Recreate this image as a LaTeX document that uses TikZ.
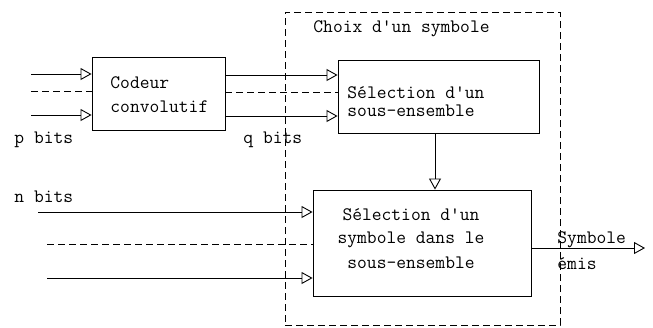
\documentclass[tikz,border=0pt]{standalone}
\usepackage{fontspec}
\usetikzlibrary{arrows.meta}
\begin{document}
\begin{tikzpicture}[x=1pt,y=-1pt,
  line width=0.9pt,
  txt/.style={font=\ttfamily\fontsize{19}{22}\selectfont, inner sep=0pt},
  blk/.style={draw, minimum width=#1, inner sep=0pt},
  arr/.style={-{Triangle[open,length=11pt,width=12pt]}},
  dsh/.style={dash pattern=on 7pt off 4pt}]
\useasboundingbox (0,0) rectangle (653,327);

% outer dashed frame
\node[draw, dsh, minimum width=275pt, minimum height=313pt, inner sep=0pt] (frame) at (422.5,168.5) {};
\node[txt, anchor=west] (ttl) at (313,29) {Choix d\textquotesingle un symbole};

% blocks
\node[blk=133pt, minimum height=73pt] (cod) at (158.5,93.5) {};
\node[blk=201pt, minimum height=73pt] (sel) at (438.5,96.5) {};
\node[blk=218pt, minimum height=106pt] (sym) at (422,243) {};

\node[txt, anchor=west] (c1) at (110,83) {Codeur};
\node[txt, anchor=west] (c2) at (110,107) {convolutif};
\node[txt, anchor=west] (s1) at (347,93) {Sélection d\textquotesingle un};
\node[txt, anchor=west] (s2) at (347,111) {sous-ensemble};
\node[txt] (y1) at (411,215) {Sélection d\textquotesingle un};
\node[txt] (y2) at (411,240) {symbole dans le};
\node[txt] (y3) at (411,263) {sous-ensemble};

% labels
\node[txt, anchor=west] (pb) at (14,140) {p bits};
\node[txt, anchor=west] (qb) at (243,140) {q bits};
\node[txt, anchor=west] (nb) at (14,197) {n bits};
\node[txt, anchor=west] (se) at (557,240) {Symbole};
\node[txt, anchor=west] (em) at (557,264) {émis};

% inputs of the encoder
\coordinate (p1) at (31,74);
\coordinate (p2) at (31,91);
\coordinate (p3) at (31,115);
\draw[arr] (p1) -- (cod.west |- p1);
\draw[dsh] (p2) -- (cod.west |- p2);
\draw[arr] (p3) -- (cod.west |- p3);

% encoder to subset selection
\coordinate (q1) at (225,75);
\coordinate (q2) at (225,92);
\coordinate (q3) at (225,116);
\draw[arr] (cod.east |- q1) -- (sel.west |- q1);
\draw[dsh] (cod.east |- q2) -- (sel.west |- q2);
\draw[arr] (cod.east |- q3) -- (sel.west |- q3);

% subset to symbol selection
\draw[arr] (sel.south -| 435,0) -- (sym.north -| 435,0);

% uncoded bits
\coordinate (n1) at (38,212);
\coordinate (n2) at (47,244);
\coordinate (n3) at (47,278);
\draw[arr] (n1) -- (sym.west |- n1);
\draw[dsh] (n2) -- (sym.west |- n2);
\draw[arr] (n3) -- (sym.west |- n3);

% emitted symbol
\coordinate (out) at (645,248);
\draw[arr] (sym.east |- out) -- (out);
\end{tikzpicture}
\end{document}
